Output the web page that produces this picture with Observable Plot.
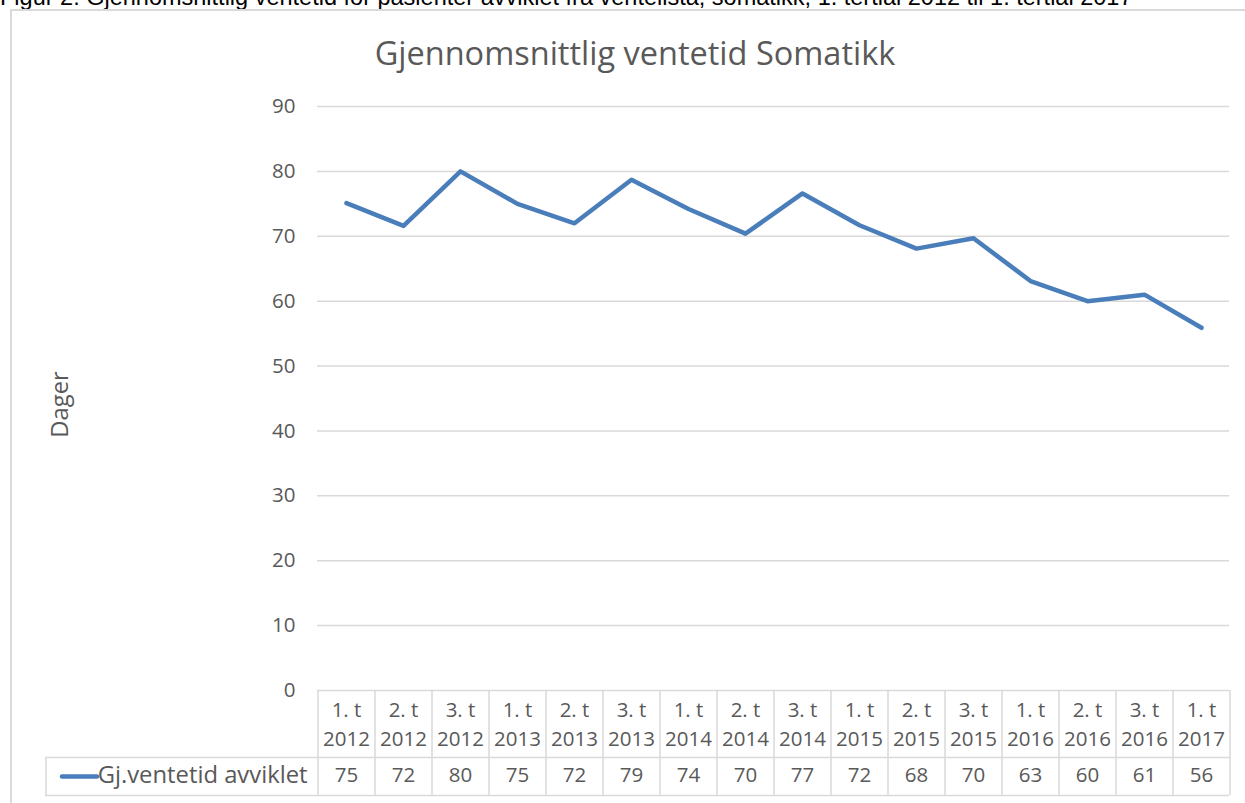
<!DOCTYPE html>
<html>
<head>
<meta charset="utf-8">
<script src="https://cdn.jsdelivr.net/npm/d3@7"></script>
<script src="https://cdn.jsdelivr.net/npm/@observablehq/plot@0.6"></script>
<style>
  html, body { margin: 0; padding: 0; background: #fff; overflow: hidden; }
  body { width: 1245px; height: 803px; position: relative; }
  #caption { position: absolute; left: 0; top: -16px; font-family: "Liberation Sans", Arial, sans-serif; font-size: 23.5px; line-height: 26px; color: #000; white-space: nowrap; }
  #frame { position: absolute; left: 10px; top: 9px; width: 1300px; height: 900px; border: 2px solid #d9d9d9; box-sizing: border-box; }
  #title { position: absolute; left: 0; width: 1270px; top: 31px; text-align: center; font-family: "Open Sans", sans-serif; font-size: 32.5px; line-height: 44px; color: #595959; white-space: nowrap; }
  #chart { position: absolute; left: 0; top: 0; }
</style>
</head>
<body>
<div id="caption">Figur 2: Gjennomsnittlig ventetid for pasienter avviklet fra ventelista, somatikk, 1. tertial 2012 til 1. tertial 2017</div>
<div id="frame"></div>
<div id="title">Gjennomsnittlig ventetid Somatikk</div>
<div id="chart"></div>
<script>
// ---- data ----
const tertials = ["1. t","2. t","3. t","1. t","2. t","3. t","1. t","2. t","3. t","1. t","2. t","3. t","1. t","2. t","3. t","1. t"];
const years = ["2012","2012","2012","2013","2013","2013","2014","2014","2014","2015","2015","2015","2016","2016","2016","2017"];
const values = [75.1, 71.6, 80.0, 75.0, 72.0, 78.7, 74.2, 70.4, 76.6, 71.7, 68.1, 69.7, 63.1, 60.0, 61.0, 55.9];
const tableValues = [75, 72, 80, 75, 72, 79, 74, 70, 77, 72, 68, 70, 63, 60, 61, 56];
const seriesName = "Gj.ventetid avviklet";
const yLabel = "Dager";
const yTicks = [0, 10, 20, 30, 40, 50, 60, 70, 80, 90];

const periods = tertials.map((t, i) => t + "\n" + years[i]);
const data = periods.map((p, i) => ({period: p, value: values[i], label: tableValues[i]}));

// ---- layout ----
const W = 1245, H = 803;
const mL = 317, mR = 16, mT = 106, mB = 113;
const step = (W - mL - mR) / periods.length;
const half = step / 2;
const labelCell = 272;      // width of the series-name cell
const headerH = 67, rowH = 38;

const gridColor = "#d9d9d9";
const lineColor = "#4a7ebb";
const textColor = "#595959";
const numSize = 20.5;   // digits
const wordSize = 23.8;  // words

const chart = Plot.plot({
  width: W,
  height: H,
  marginLeft: mL,
  marginRight: mR,
  marginTop: mT,
  marginBottom: mB,
  style: {fontFamily: "'Open Sans', sans-serif", fontSize: numSize + "px", color: textColor, background: "transparent", overflow: "visible"},
  x: {type: "point", domain: periods, padding: 0.5, axis: null},
  y: {domain: [0, 90], axis: null},
  marks: [
    Plot.gridY(yTicks, {stroke: gridColor, strokeOpacity: 1, strokeWidth: 1.5}),
    Plot.axisY(yTicks, {tickSize: 0, tickPadding: 22, fontSize: numSize, fill: textColor, label: null}),
    Plot.text([yLabel], {frameAnchor: "left", text: d => d, rotate: -90, textAnchor: "middle", dx: -257, dy: 6, fontSize: wordSize, fill: textColor}),
    // data table: vertical separators
    Plot.ruleX(periods, {x: d => d, dx: -half, stroke: gridColor, strokeWidth: 1.5, insetTop: H - mT - mB, insetBottom: -(headerH + rowH)}),
    Plot.ruleX([periods[periods.length - 1]], {x: d => d, dx: half, stroke: gridColor, strokeWidth: 1.5, insetTop: H - mT - mB, insetBottom: -(headerH + rowH)}),
    Plot.ruleX([periods[0]], {x: d => d, dx: -half - labelCell, stroke: gridColor, strokeWidth: 1.5, insetTop: H - mT - mB + headerH, insetBottom: -(headerH + rowH)}),
    // data table: horizontal separators
    Plot.ruleY([0], {dy: headerH, insetLeft: -labelCell, stroke: gridColor, strokeWidth: 1.5}),
    Plot.ruleY([0], {dy: headerH + rowH, insetLeft: -labelCell, stroke: gridColor, strokeWidth: 1.5}),
    // header labels
    Plot.text(data, {x: "period", y: () => 0, text: "period", dy: 32, lineAnchor: "middle", lineHeight: 1.4, fontSize: numSize, fill: textColor}),
    // value labels
    Plot.text(data, {x: "period", y: () => 0, text: "label", dy: headerH + rowH / 2 - 1, fontSize: numSize, fill: textColor}),
    // legend key + series name
    Plot.ruleY([0], {dy: headerH + rowH / 2, insetLeft: -255, insetRight: (W - mL - mR) + (mL - 97), stroke: lineColor, strokeWidth: 4.5, strokeLinecap: "round"}),
    Plot.text([seriesName], {frameAnchor: "left", y: () => 0, text: d => d, textAnchor: "end", dx: -10, dy: headerH + rowH / 2 - 1, fontSize: wordSize, fill: textColor}),
    // the series line
    Plot.line(data, {x: "period", y: "value", stroke: lineColor, strokeWidth: 4.5, strokeLinejoin: "round", strokeLinecap: "round"})
  ]
});
document.getElementById("chart").appendChild(chart);
</script>
</body>
</html>
